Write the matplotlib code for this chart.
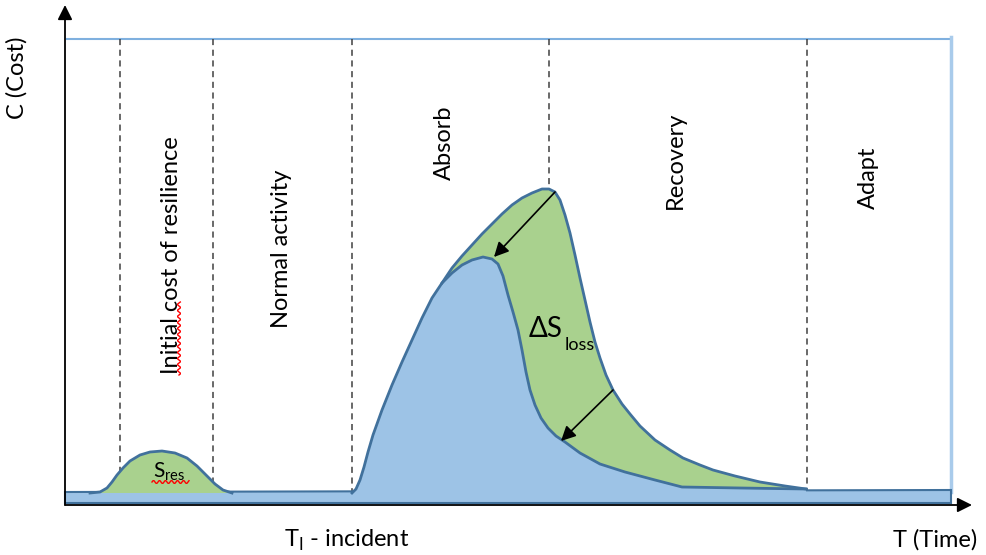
import matplotlib
matplotlib.use("Agg")
import matplotlib.pyplot as plt
import numpy as np

plt.rcParams['font.family'] = ['Lato', 'DejaVu Sans']

# ---------------- data (time, cost) ----------------
t_blue = [352, 356, 360, 364, 368, 373, 382, 392, 402, 412, 422, 432, 442, 452, 462, 472, 483, 492,
          498, 503, 508, 513, 518, 522, 526, 530, 535, 541, 548, 556, 565, 580, 600, 625, 655,
          682, 740, 806]
c_blue = [0, 4, 13, 26, 41, 58, 83, 108, 131, 153, 175, 195, 210, 220, 228, 233, 236, 234,
          229, 217, 198, 181, 163, 143, 121, 103, 88, 75, 65, 57, 51, 40, 29, 21, 13,
          6, 5, 4]

t_green = [442, 452, 462, 472, 482, 492, 502, 512, 522, 532, 542, 549, 555, 560, 565, 570, 575,
           580, 585, 590, 595, 600, 606, 613, 622, 630, 640, 655, 670, 683, 700, 713, 735, 760,
           785, 806]
c_green = [210, 225, 237, 248, 259, 269, 279, 288, 295, 300, 304, 304, 301, 293, 278, 260, 238,
           215, 193, 171, 151, 135, 118, 103, 89, 79, 67, 53, 43, 35, 28, 23, 17, 11,
           7, 4]

t_hump = [90, 100, 107, 112, 117, 123, 130, 140, 150, 162, 175, 187, 197, 207, 215, 223, 232]
c_hump = [0, 1, 5, 11, 18, 25, 32, 38, 41, 42, 40, 35, 27, 17, 9, 3, 0]

phase_bounds = [120, 213, 352, 549, 807]
phase_labels = ["Initial cost of resilience", "Normal activity", "Absorb", "Recovery", "Adapt"]
phase_label_t = [172, 281, 444, 675, 868]
phase_label_c = [238, 244, 350, 333, 315]

arrow_from = [(555, 301), (613, 103)]
arrow_to = [(494, 236), (561, 52)]

t_start, t_end, c_top = 65, 951, 454

# ---------------- figure ----------------
W, H = 986, 555
fig = plt.figure(figsize=(W / 100, H / 100), dpi=100)
ax = fig.add_axes([0, 0, 1, 1])
ax.set_xlim(0, W)
ax.set_ylim(-62, 493)
ax.axis('off')

edge = '#41719C'
bluefill = '#9DC3E6'
greenfill = '#A9D18E'

# frame lines (top and right)
ax.plot([t_start + 2, t_end - 1], [c_top, c_top], color='#7FB0DF', lw=1.5, zorder=1)
ax.plot([t_end, t_end], [c_top + 2, 1], color='#A9CBEB', lw=2.5, zorder=1)

# dashed phase boundaries
for tb in phase_bounds:
    ax.plot([tb, tb], [c_top, 0], color='#404040', lw=1.1, ls=(0, (4, 3)), zorder=2)

# baseline band
band_t = [t_start, t_end, t_end, t_start]
band_c = [1, 3, -10, -10]
ax.fill(band_t, band_c, facecolor=bluefill, edgecolor=edge, lw=1.5, zorder=3)

# hump
ax.fill(t_hump, c_hump, facecolor=greenfill, edgecolor='none', zorder=4)
ax.plot(t_hump, c_hump, color=edge, lw=2, zorder=5)

# green loss region
gt = t_green + [t_green[-1], t_green[0]]
gc = c_green + [0, 0]
ax.fill(gt, gc, facecolor=greenfill, edgecolor='none', zorder=4)
ax.plot(t_green, c_green, color=edge, lw=2, zorder=6)

# blue area
ax.fill(t_blue + [t_blue[-1]], c_blue + [0], facecolor=bluefill, edgecolor='none', zorder=5)
ax.plot(t_blue, c_blue, color=edge, lw=2, zorder=6)

# arrows
for (x0, y0), (x1, y1) in zip(arrow_from, arrow_to):
    ax.annotate('', xy=(x1, y1), xytext=(x0, y0),
                arrowprops=dict(arrowstyle='-|>', color='black', lw=1.2, mutation_scale=22,
                                shrinkA=0, shrinkB=0), zorder=7)

# axes arrows
ax.annotate('', xy=(t_start, 488), xytext=(t_start, -12),
            arrowprops=dict(arrowstyle='-|>', color='black', lw=1.3, mutation_scale=22,
                            shrinkA=0, shrinkB=0), zorder=8)
ax.annotate('', xy=(972, -12), xytext=(t_start, -12),
            arrowprops=dict(arrowstyle='-|>', color='black', lw=1.3, mutation_scale=22,
                            shrinkA=0, shrinkB=0), zorder=8)

# phase labels
fs = 17
for lab, tx, cy in zip(phase_labels, phase_label_t, phase_label_c):
    ax.text(tx, cy, lab, rotation=90, ha='center', va='center', fontsize=fs, color='black',
            zorder=9)

ax.text(17, 415, 'C (Cost)', rotation=90, ha='center', va='center', fontsize=fs)
ax.text(347, -47, r'T$_\mathregular{I}$ - incident', ha='center', va='center', fontsize=fs)
ax.text(935, -47, 'T (Time)', ha='center', va='center', fontsize=fs)

ax.text(529, 164, '\u0394S', ha='left', va='center', fontsize=20, zorder=9)
ax.text(565, 148, 'loss', ha='left', va='center', fontsize=13, zorder=9)
ax.text(169, 21, r'S$_\mathregular{res}$', ha='center', va='center', fontsize=15, zorder=9)

# spell-check squiggles
sq_t = np.arange(152, 190, 1.0)
ax.plot(sq_t, 11 + 1.5 * np.sin((sq_t - 152) * np.pi / 3), color='red', lw=1, zorder=9)
sq_c = np.arange(118, 192, 1.0)
ax.plot(179 + 1.5 * np.sin((sq_c - 118) * np.pi / 3), sq_c, color='red', lw=1, zorder=9)

fig.savefig('out.png', dpi=100)
